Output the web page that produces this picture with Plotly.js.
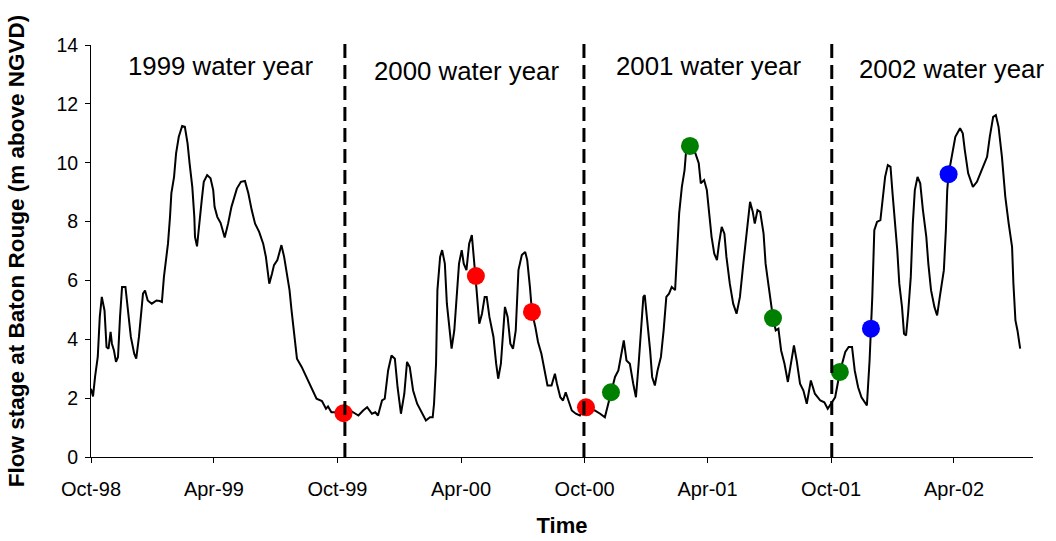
<!DOCTYPE html>
<html>
<head>
<meta charset="utf-8">
<script src="https://cdn.plot.ly/plotly-3.0.1.min.js"></script>
<style>
  html, body { margin: 0; padding: 0; background: #fff; }
  #chart { width: 1056px; height: 541px; }
</style>
</head>
<body>
<div id="chart"></div>
<script>
// Record start date; every time value below is "days since" this date.
const startDate = '1998-10-01';

// Daily flow stage at Baton Rouge (m above NGVD)
const stageDays = [
  0, 3, 6, 10, 13, 16, 20, 23, 26, 29, 31, 34, 37, 40, 43, 46, 51, 55, 59, 64,
  67, 71, 74, 77, 80, 84, 90, 97, 102, 105, 108, 112, 114, 117, 119, 123, 126, 130, 135, 139,
  143, 146, 150, 153, 154, 157, 161, 164, 167, 172, 177, 181, 183, 187, 192, 198, 203, 208, 216, 222,
  228, 233, 238, 243, 249, 255, 259, 264, 268, 271, 276, 282, 286, 290, 294, 297, 301, 305, 312, 319,
  327, 334, 342, 348, 351, 356, 364, 374, 384, 396, 403, 409, 416, 421, 425, 431, 435, 440, 445, 450,
  454, 459, 464, 468, 472, 477, 483, 490, 496, 502, 506, 508, 511, 513, 517, 520, 524, 527, 531, 534,
  538, 542, 545, 549, 552, 556, 560, 564, 567, 570, 571, 575, 579, 583, 586, 590, 596, 600, 603, 607,
  610, 613, 617, 621, 625, 629, 633, 638, 643, 646, 650, 653, 658, 662, 667, 672, 676, 682, 687, 690,
  695, 699, 703, 707, 712, 718, 724, 733, 746, 754, 761, 766, 770, 776, 781, 785, 789, 793, 798, 803,
  807, 811, 815, 818, 820, 824, 828, 831, 835, 839, 844, 848, 852, 856, 860, 865, 867, 871, 875, 879,
  881, 887, 895, 900, 903, 908, 912, 916, 919, 923, 927, 930, 934, 938, 941, 946, 951, 956, 961, 966,
  971, 976, 980, 983, 987, 991, 996, 999, 1003, 1007, 1010, 1014, 1018, 1022, 1027, 1032, 1037, 1041, 1045, 1050,
  1055, 1060, 1066, 1072, 1080, 1086, 1091, 1097, 1102, 1109, 1117, 1122, 1127, 1131, 1136, 1141, 1149, 1153, 1155, 1157,
  1160, 1164, 1169, 1172, 1176, 1180, 1184, 1187, 1191, 1194, 1197, 1201, 1204, 1207, 1210, 1214, 1217, 1220, 1224, 1228,
  1232, 1237, 1240, 1244, 1249, 1253, 1257, 1263, 1266, 1268, 1270, 1275, 1280, 1287, 1291, 1294, 1299, 1306, 1312, 1319,
  1327, 1331, 1336, 1340, 1344, 1349, 1354, 1359, 1364, 1366, 1369, 1372, 1376
];
const stageValues = [
  2.32, 2.06, 2.72, 3.40, 4.76, 5.44, 4.98, 3.74, 3.68, 4.25, 3.85, 3.62, 3.23, 3.40, 4.76, 5.78, 5.78, 4.98, 4.08, 3.51,
  3.34, 4.08, 4.98, 5.55, 5.66, 5.32, 5.21, 5.32, 5.30, 5.27, 6.12, 6.80, 7.25, 8.16, 8.96, 9.52, 10.32, 10.88, 11.25, 11.22,
  10.66, 9.98, 9.18, 8.16, 7.48, 7.16, 8.16, 8.73, 9.35, 9.58, 9.47, 9.07, 8.50, 8.16, 7.95, 7.46, 7.93, 8.50, 9.12, 9.35,
  9.38, 8.96, 8.39, 7.93, 7.65, 7.25, 6.80, 5.89, 6.23, 6.52, 6.69, 7.20, 6.80, 6.23, 5.67, 4.98, 4.08, 3.34, 3.06, 2.72,
  2.32, 1.98, 1.90, 1.64, 1.72, 1.52, 1.52, 1.49, 1.58, 1.41, 1.58, 1.69, 1.47, 1.52, 1.41, 1.92, 1.98, 2.94, 3.45, 3.34,
  2.37, 1.47, 2.15, 3.23, 3.06, 2.26, 1.81, 1.52, 1.24, 1.35, 1.35, 1.81, 3.17, 5.67, 6.80, 7.03, 6.57, 5.21, 4.30, 3.68,
  4.30, 5.67, 6.57, 7.03, 6.57, 6.35, 7.25, 7.54, 6.80, 6.15, 5.67, 4.53, 4.87, 5.44, 5.44, 4.76, 4.08, 3.17, 2.66, 3.17,
  4.30, 5.10, 4.76, 3.85, 3.68, 4.30, 6.35, 6.86, 6.97, 6.69, 5.78, 4.93, 4.42, 3.91, 3.51, 2.83, 2.43, 2.43, 2.83, 2.49,
  2.03, 1.92, 2.20, 1.92, 1.58, 1.47, 1.41, 1.69, 1.58, 1.47, 1.35, 1.81, 2.20, 2.72, 2.94, 3.40, 3.96, 3.28, 3.17, 2.49,
  2.03, 3.17, 4.30, 5.44, 5.50, 4.64, 3.62, 2.72, 2.43, 2.94, 3.40, 4.30, 5.44, 5.55, 5.78, 5.67, 6.57, 8.28, 9.18, 9.75,
  10.32, 10.57, 10.32, 9.98, 9.30, 9.41, 9.07, 8.16, 7.48, 6.91, 6.69, 7.25, 7.82, 7.59, 6.80, 5.89, 5.21, 4.87, 5.44, 6.57,
  7.71, 8.67, 8.33, 7.93, 8.39, 8.33, 7.59, 6.57, 5.89, 5.21, 4.72, 4.30, 4.36, 3.62, 3.17, 2.55, 3.17, 3.79, 3.28, 2.49,
  2.26, 1.81, 2.60, 2.15, 1.92, 1.86, 1.64, 1.86, 2.03, 2.89, 3.57, 3.74, 3.74, 2.94, 2.37, 2.03, 1.75, 3.28, 4.36, 5.44,
  7.71, 7.99, 8.05, 8.62, 9.52, 9.92, 9.86, 8.96, 7.93, 7.03, 5.89, 5.10, 4.19, 4.13, 4.87, 6.12, 7.93, 9.07, 9.52, 9.30,
  8.39, 7.48, 6.57, 5.67, 5.10, 4.81, 5.44, 6.35, 7.71, 9.07, 9.61, 10.20, 10.88, 11.17, 11.00, 10.43, 9.64, 9.18, 9.35, 9.75,
  10.20, 10.88, 11.56, 11.62, 11.22, 10.20, 8.84, 7.93, 7.14, 5.89, 4.64, 4.30, 3.68
];

// Sampling points per water year (days since start, stage)
const samples2000Days = [374, 570, 653, 733];
const samples2000Stage = [1.49, 6.15, 4.93, 1.69];
const samples2001Days = [770, 887, 1010, 1109];
const samples2001Stage = [2.20, 10.57, 4.72, 2.89];
const samples2002Days = [1155, 1270];
const samples2002Stage = [4.36, 9.61];

// Water-year boundaries (dashed lines), days since start
const boundaryDays = [376, 730, 1097];

// Water-year labels
const waterYearLabels = ['1999 water year', '2000 water year', '2001 water year', '2002 water year'];

// Axis ticks
const xTickDates = ['1998-10-01', '1999-04-01', '1999-10-01', '2000-04-01', '2000-10-01', '2001-04-01', '2001-10-01', '2002-04-01'];
const xTickText = ['Oct-98', 'Apr-99', 'Oct-99', 'Apr-00', 'Oct-00', 'Apr-01', 'Oct-01', 'Apr-02'];
const yTickVals = [0, 2, 4, 6, 8, 10, 12, 14];
const xRangeDates = ['1998-10-01', '2002-07-27'];

function dayToDate(d) {
  const t = Date.UTC(1998, 9, 1) + d * 86400000;
  return new Date(t).toISOString().slice(0, 10);
}
const toDates = arr => arr.map(dayToDate);

const font = 'Liberation Sans, Arial, sans-serif';

const traces = [
  {
    x: toDates(stageDays), y: stageValues, type: 'scatter', mode: 'lines',
    line: { color: '#000', width: 2 }, hoverinfo: 'x+y', showlegend: false
  },
  {
    x: toDates(samples2000Days), y: samples2000Stage, type: 'scatter', mode: 'markers',
    marker: { color: '#ff0000', size: 18 }, showlegend: false, cliponaxis: false
  },
  {
    x: toDates(samples2001Days), y: samples2001Stage, type: 'scatter', mode: 'markers',
    marker: { color: '#008000', size: 18 }, showlegend: false, cliponaxis: false
  },
  {
    x: toDates(samples2002Days), y: samples2002Stage, type: 'scatter', mode: 'markers',
    marker: { color: '#0000ff', size: 18 }, showlegend: false, cliponaxis: false
  }
];

const shapes = boundaryDays.map(d => ({
  type: 'line', xref: 'x', yref: 'paper',
  x0: dayToDate(d), x1: dayToDate(d), y0: 0, y1: 1.017,
  line: { color: '#000', width: 3, dash: '14px,7px' }
}));

const labelPos = [[0.137, 0.950], [0.399, 0.937], [0.655, 0.948], [0.913, 0.941]];
const annotations = waterYearLabels.map((t, i) => ({
  text: t, xref: 'paper', yref: 'paper', x: labelPos[i][0], y: labelPos[i][1],
  xanchor: 'center', yanchor: 'middle', showarrow: false,
  font: { family: font, size: 25.8, color: '#000' }
}));

const layout = {
  width: 1056, height: 541,
  margin: { l: 91, r: 23, t: 45, b: 84 },
  paper_bgcolor: '#fff', plot_bgcolor: '#fff',
  showlegend: false,
  xaxis: {
    type: 'date', range: xRangeDates,
    tickvals: xTickDates, ticktext: xTickText,
    ticks: 'outside', ticklen: 5, tickcolor: '#000', tickwidth: 1,
    ticklabelstandoff: 9,
    showline: true, linecolor: '#000', linewidth: 1,
    showgrid: false, zeroline: false,
    tickfont: { family: font, size: 20, color: '#000' },
    title: { text: 'Time', font: { family: font, size: 22, color: '#000', weight: 'bold' }, standoff: 18 }
  },
  yaxis: {
    range: [0, 14], tickvals: yTickVals,
    ticks: 'outside', ticklen: 5, tickcolor: '#000', tickwidth: 1,
    ticklabelstandoff: 3,
    showline: true, linecolor: '#000', linewidth: 1,
    showgrid: false, zeroline: false,
    tickfont: { family: font, size: 19.5, color: '#000' },
    title: { text: 'Flow stage at Baton Rouge (m above NGVD)', font: { family: font, size: 22.5, color: '#000', weight: 'bold' }, standoff: 25 }
  },
  shapes: shapes,
  annotations: annotations
};

Plotly.newPlot('chart', traces, layout, { staticPlot: true, displayModeBar: false });
</script>
</body>
</html>
